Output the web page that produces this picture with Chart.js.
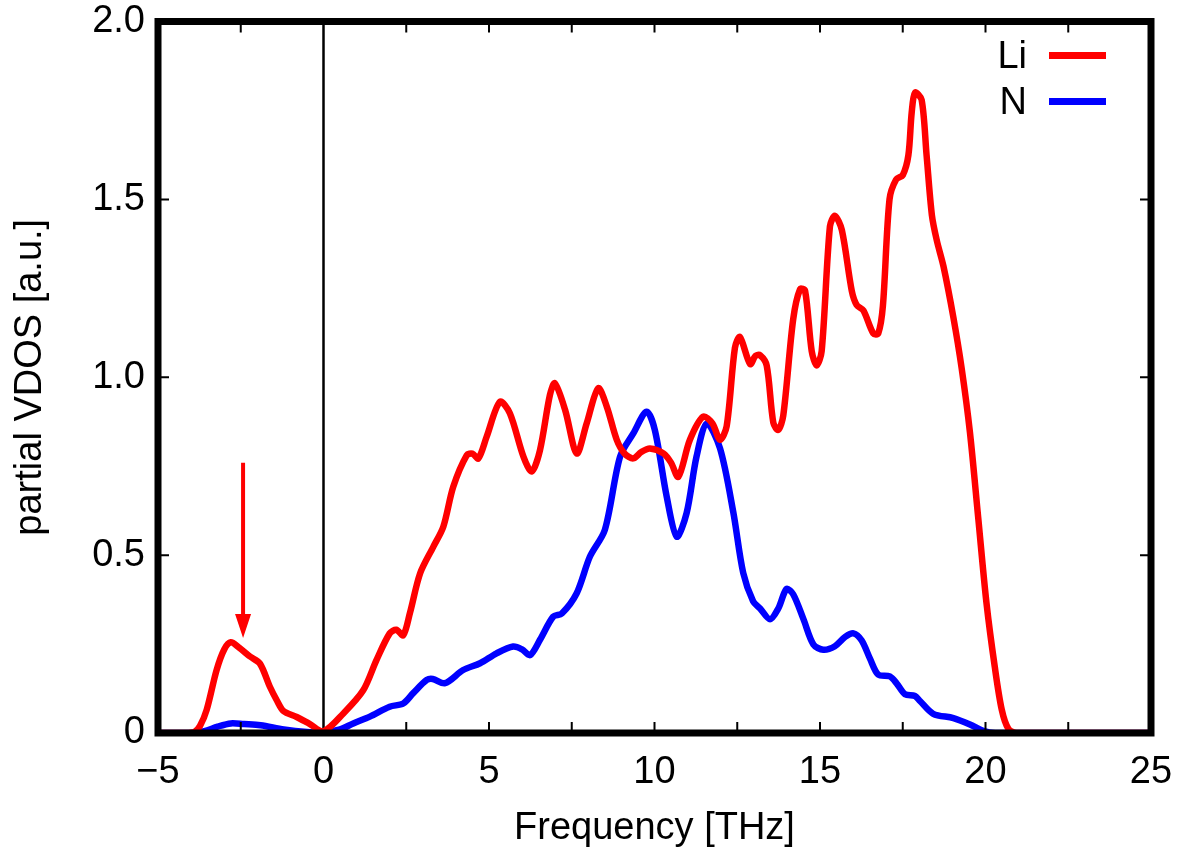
<!DOCTYPE html>
<html>
<head>
<meta charset="utf-8">
<script src="https://cdn.jsdelivr.net/npm/chart.js@4.4.1/dist/chart.umd.min.js"></script>
<style>
  html, body { margin: 0; padding: 0; background: #fff; }
  #wrap { width: 1182px; height: 854px; }
</style>
</head>
<body>
<div id="wrap"><canvas id="myChart" width="1182" height="854"></canvas></div>
<script>
// partial VDOS, frequency in THz
var liFreq = [-5, -4.2, -3.9, -3.73, -3.53, -3.23, -3.0, -2.8, -2.55, -2.22, -1.92, -1.62, -1.4, -1.21, -0.81, -0.41, 0,
    0.6, 1.2, 1.6, 2.0, 2.2, 2.41, 2.61, 2.92, 3.32, 3.62, 3.92, 4.33, 4.5, 4.68, 4.93, 5.33, 5.63, 6.04, 6.29, 6.54,
    6.84, 6.99, 7.3, 7.65, 7.95, 8.3, 8.56, 8.86, 9.1, 9.36, 9.6, 9.86, 10.27, 10.5, 10.72, 11.07, 11.47, 11.75, 11.98,
    12.18, 12.43, 12.58, 12.89, 13.05, 13.19, 13.39, 13.59, 13.74, 13.89, 14.19, 14.4, 14.55, 14.75, 14.9, 15.05,
    15.3, 15.45, 15.66, 15.96, 16.11, 16.31, 16.61, 16.76, 16.9, 17.1, 17.3, 17.5, 17.67, 17.77, 17.87, 18.07, 18.22,
    18.38, 18.53, 18.73, 19.03, 19.28, 19.53, 19.78, 20.03, 20.28, 20.49, 20.69, 20.94, 25];
var liVdos = [0, 0, 0.003, 0.02, 0.065, 0.177, 0.235, 0.255, 0.24, 0.215, 0.195, 0.13, 0.09, 0.062, 0.045, 0.025, 0.005,
    0.055, 0.12, 0.205, 0.28, 0.29, 0.275, 0.337, 0.449, 0.524, 0.58, 0.692, 0.781, 0.785, 0.772, 0.833, 0.931, 0.899,
    0.777, 0.735, 0.795, 0.95, 0.983, 0.908, 0.786, 0.87, 0.969, 0.917, 0.824, 0.785, 0.772, 0.79, 0.8, 0.786, 0.76,
    0.72, 0.824, 0.889, 0.87, 0.824, 0.862, 1.083, 1.113, 1.037, 1.06, 1.062, 1.033, 0.872, 0.852, 0.892, 1.163, 1.248,
    1.243, 1.073, 1.033, 1.073, 1.424, 1.454, 1.414, 1.243, 1.203, 1.188, 1.123, 1.123, 1.2, 1.5, 1.556, 1.568, 1.624,
    1.744, 1.8, 1.78, 1.624, 1.456, 1.384, 1.312, 1.168, 1.025, 0.845, 0.605, 0.365, 0.186, 0.066, 0.012, 0, 0];

var nFreq = [-5, -4.0, -3.6, -3.2, -2.8, -2.4, -1.9, -1.2, -0.5, 0, 0.5, 0.9, 1.4, 2.0, 2.41, 2.71, 3.12, 3.3, 3.67,
    4.22, 4.73, 5.23, 5.73, 6.0, 6.24, 6.54, 6.94, 7.2, 7.65, 8.05, 8.5, 8.96, 9.36, 9.76, 10.01, 10.37, 10.67, 10.97,
    11.27, 11.58, 11.98, 12.38, 12.68, 12.98, 13.19, 13.49, 13.74, 13.99, 14.19, 14.5, 14.8, 15.1, 15.45, 15.76, 16.01,
    16.26, 16.51, 16.76, 17.11, 17.32, 17.57, 17.87, 18.02, 18.42, 19.03, 19.53, 19.93, 20.3, 25];
var nVdos = [0, 0, 0.005, 0.018, 0.027, 0.025, 0.022, 0.01, 0.003, 0.002, 0.01, 0.027, 0.046, 0.074, 0.083, 0.112,
    0.149, 0.152, 0.14, 0.177, 0.196, 0.224, 0.243, 0.235, 0.219, 0.262, 0.327, 0.336, 0.393, 0.496, 0.571, 0.777,
    0.842, 0.903, 0.852, 0.664, 0.552, 0.618, 0.777, 0.87, 0.8, 0.621, 0.45, 0.37, 0.35, 0.32, 0.35, 0.405, 0.39, 0.32,
    0.249, 0.234, 0.244, 0.27, 0.28, 0.26, 0.209, 0.164, 0.159, 0.139, 0.109, 0.104, 0.09, 0.054, 0.042, 0.024, 0.006,
    0, 0];

var seriesNames = ['Li', 'N'];
var seriesColors = ['#ff0000', '#0000ff'];

// arrow marking the Li peak at negative frequency
var arrowFreq = -2.43;
var arrowFrom = 0.76;
var arrowTo = 0.267;

var xMin = -5, xMax = 25, xTickStep = 2.5, xLabelStep = 5;
var yMin = 0, yMax = 2, yTickStep = 0.5;

function toPoints(xs, ys) {
    var pts = [];
    for (var i = 0; i < xs.length; i++) {
        pts.push({ x: xs[i], y: ys[i] });
    }
    return pts;
}

var FONT = 'Liberation Sans, Arial, Helvetica, sans-serif';

// frame, inward ticks, zero line, arrow and legend in gnuplot style
var gnuplotDeco = {
    id: 'gnuplotDeco',
    beforeDatasetsDraw: function(chart) {
        var ctx = chart.ctx, x = chart.scales.x, a = chart.chartArea;
        var x0 = x.getPixelForValue(0);
        ctx.save();
        ctx.strokeStyle = '#000';
        ctx.lineWidth = 2.5;
        ctx.beginPath();
        ctx.moveTo(x0, a.top);
        ctx.lineTo(x0, a.bottom);
        ctx.stroke();
        ctx.restore();
    },
    afterDatasetsDraw: function(chart) {
        var ctx = chart.ctx, xs = chart.scales.x, ys = chart.scales.y, a = chart.chartArea;
        ctx.save();
        ctx.strokeStyle = '#000';
        ctx.lineWidth = 2;
        var tl = 11;
        ctx.beginPath();
        for (var v = xMin + xTickStep; v < xMax - 1e-9; v += xTickStep) {
            if (Math.abs(v) < 1e-9) continue;
            var px = xs.getPixelForValue(v);
            ctx.moveTo(px, a.bottom); ctx.lineTo(px, a.bottom - tl);
            ctx.moveTo(px, a.top); ctx.lineTo(px, a.top + tl);
        }
        for (var w = yMin + yTickStep; w < yMax - 1e-9; w += yTickStep) {
            var py = ys.getPixelForValue(w);
            ctx.moveTo(a.left, py); ctx.lineTo(a.left + tl, py);
            ctx.moveTo(a.right, py); ctx.lineTo(a.right - tl, py);
        }
        ctx.stroke();

        // frame
        ctx.lineWidth = 7;
        ctx.strokeRect(a.left, a.top, a.right - a.left, a.bottom - a.top);

        // arrow
        var ax = xs.getPixelForValue(arrowFreq);
        var ay1 = ys.getPixelForValue(arrowFrom);
        var ay2 = ys.getPixelForValue(arrowTo);
        ctx.strokeStyle = seriesColors[0];
        ctx.fillStyle = seriesColors[0];
        ctx.lineWidth = 4;
        ctx.beginPath();
        ctx.moveTo(ax, ay1);
        ctx.lineTo(ax, ay2 - 20);
        ctx.stroke();
        ctx.beginPath();
        ctx.moveTo(ax, ay2);
        ctx.lineTo(ax - 8, ay2 - 24);
        ctx.lineTo(ax + 8, ay2 - 24);
        ctx.closePath();
        ctx.fill();

        // key
        ctx.font = '38px ' + FONT;
        ctx.textAlign = 'right';
        ctx.textBaseline = 'middle';
        chart.data.datasets.forEach(function(ds, i) {
            var ky = a.top + 34 + i * 46;
            ctx.fillStyle = '#000';
            ctx.fillText(ds.label, 1027, ky + 2);
            ctx.strokeStyle = ds.borderColor;
            ctx.lineWidth = 7;
            ctx.beginPath();
            ctx.moveTo(1049, ky);
            ctx.lineTo(1106, ky);
            ctx.stroke();
        });
        ctx.restore();
    }
};

var ctx = document.getElementById('myChart').getContext('2d');

window.myChartInstance = new Chart(ctx, {
    type: 'line',
    data: {
        datasets: [{
            label: seriesNames[0],
            data: toPoints(liFreq, liVdos),
            borderColor: seriesColors[0],
            borderWidth: 6.5,
            pointRadius: 0,
            tension: 0.3,
            fill: false
        }, {
            label: seriesNames[1],
            data: toPoints(nFreq, nVdos),
            borderColor: seriesColors[1],
            borderWidth: 6.5,
            pointRadius: 0,
            tension: 0.3,
            fill: false
        }]
    },
    options: {
        responsive: false,
        animation: false,
        devicePixelRatio: 1,
        layout: { padding: { left: 0, right: 31, top: 21.5, bottom: 0 } },
        plugins: {
            legend: { display: false },
            tooltip: { enabled: false }
        },
        scales: {
            x: {
                type: 'linear',
                min: xMin,
                max: xMax,
                border: { display: false },
                grid: { display: false, drawTicks: false },
                ticks: {
                    stepSize: xLabelStep,
                    padding: 17,
                    color: '#000',
                    font: { family: FONT, size: 38 },
                    maxRotation: 0,
                    callback: function(v) {
                        return v < 0 ? '\u2212' + Math.abs(v) : String(v);
                    }
                },
                title: {
                    display: true,
                    text: 'Frequency [THz]',
                    color: '#000',
                    font: { family: FONT, size: 38 },
                    padding: { top: 0, bottom: 3 }
                },
                afterFit: function(scale) {
                    scale.height = 121;
                    scale.paddingLeft = 0;
                    scale.paddingRight = 0;
                }
            },
            y: {
                min: yMin,
                max: yMax,
                border: { display: false },
                grid: { display: false, drawTicks: false },
                ticks: {
                    stepSize: yTickStep,
                    padding: 13,
                    color: '#000',
                    font: { family: FONT, size: 38 },
                    callback: function(v) {
                        return v === 0 ? '0' : v.toFixed(1);
                    }
                },
                title: {
                    display: true,
                    text: 'partial VDOS [a.u.]',
                    color: '#000',
                    font: { family: FONT, size: 38 },
                    padding: { top: 8, bottom: 0 }
                },
                afterFit: function(scale) {
                    scale.width = 158;
                    scale.paddingTop = 0;
                    scale.paddingBottom = 0;
                }
            }
        }
    },
    plugins: [gnuplotDeco]
});
</script>
</body>
</html>
